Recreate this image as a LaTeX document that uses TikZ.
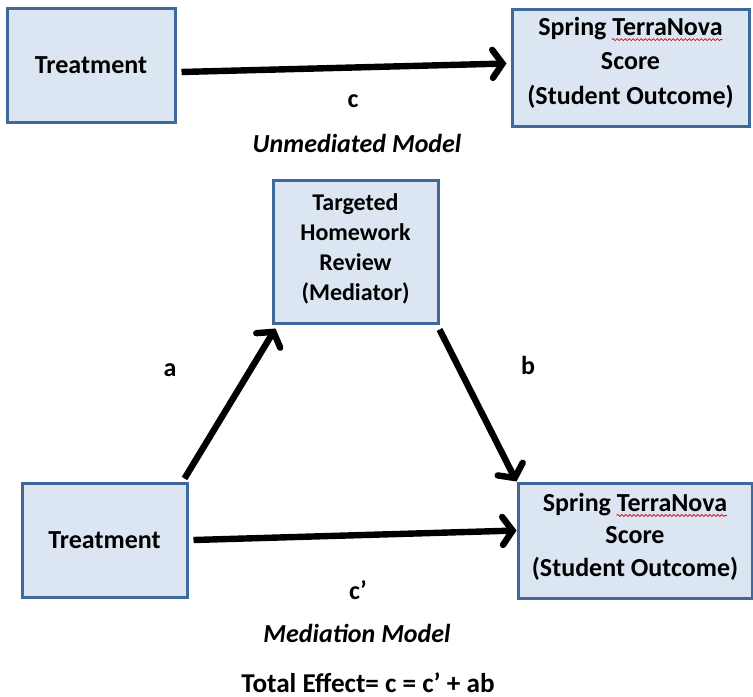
\documentclass[tikz,border=0pt]{standalone}
\usepackage{fontspec}
\setmainfont{Carlito}
\usetikzlibrary{arrows.meta, positioning, decorations.pathmorphing}
\usepackage{xcolor}
\definecolor{boxfill}{HTML}{DCE6F2}
\definecolor{boxline}{HTML}{3F689B}
\newsavebox\sqbox
\newcommand{\squig}[1]{\sbox\sqbox{#1}\usebox\sqbox\llap{\tikz[baseline=0pt]\draw[draw=red, line width=0.4pt, decorate, decoration={snake, amplitude=0.5pt, segment length=2pt}] (0pt,-2.2pt) -- (\the\wd\sqbox,-2.2pt);}}
\newcommand{\lowstrut}[1]{\rule[-#1]{0pt}{1pt}}

\begin{document}
\begin{tikzpicture}[
x=0.5pt, y=-0.5pt,
font=\fontsize{13}{16}\selectfont\bfseries,
box/.style={draw=boxline, fill=boxfill, line width=1.5pt, rectangle,
inner sep=0pt, align=center},
arrow/.style={-{Straight Barb[length=5pt, width=14pt, line cap=round]}, line width=3.2pt},
lbl/.style={inner sep=0pt}
]
\useasboundingbox (0,0) rectangle (753,696);

\node[box, minimum width=84pt, minimum height=57pt] (treatA) at (91,65) {Treatment};
\node[box, minimum width=118.5pt, minimum height=58.5pt, font=\fontsize{13}{17.2}\selectfont\bfseries] (outcomeA) at (630.5,67.5) {Spring \squig{TerraNova}\\Score\\(Student Outcome)\lowstrut{7pt}};
\node[box, minimum width=82.5pt, minimum height=71.5pt, font=\fontsize{12}{15}\selectfont\bfseries] (mediator) at (355.5,251.5) {Targeted\\Homework\\Review\\(Mediator)\lowstrut{4pt}};
\node[box, minimum width=82.5pt, minimum height=57pt] (treatB) at (104.5,540) {Treatment};
\node[box, minimum width=117pt, minimum height=57.5pt, font=\fontsize{13}{16.3}\selectfont\bfseries] (outcomeB) at (635,540.5) {Spring \squig{TerraNova}\\Score\\(Student Outcome)\lowstrut{6pt}};

\node[lbl] (labc) at (353,101) {c};
\node[lbl, font=\fontsize{13}{16}\selectfont\bfseries\itshape] (titleA) at (357,143) {Unmediated Model};
\node[lbl] (laba) at (170,370) {a};
\node[lbl] (labb) at (528,365) {b};
\node[lbl] (labcp) at (358,590) {c’};
\node[lbl, font=\fontsize{13}{16}\selectfont\bfseries\itshape] (titleB) at (357,633) {Mediation Model};
\node[lbl, anchor=base, font=\fontsize{13.6}{16}\selectfont\bfseries] (total) at (368,692) {Total Effect= c = c’ + ab};

\draw[arrow] ([xshift=2.5pt, yshift=-3.5pt]treatA.east) -- ([xshift=-2pt, yshift=2pt]outcomeA.west);
\draw[arrow] ([xshift=-2pt, yshift=1.5pt]treatB.north east) -- ([xshift=2pt, yshift=-2pt]mediator.south west);
\draw[arrow] ([yshift=-2.5pt]mediator.south east) -- (outcomeB.north west);
\draw[arrow] ([xshift=2.5pt]treatB.east) -- ([yshift=5pt]outcomeB.west);

\end{tikzpicture}
\end{document}
